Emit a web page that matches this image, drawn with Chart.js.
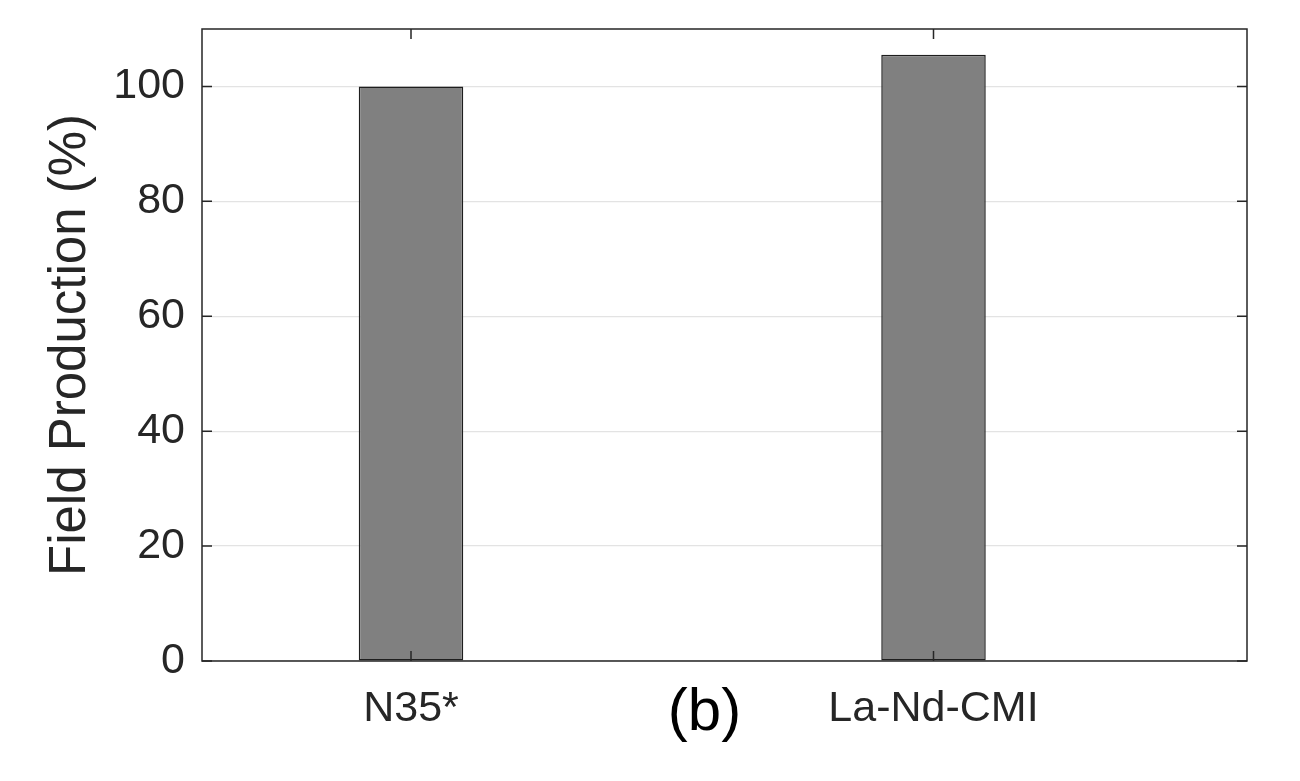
<!DOCTYPE html>
<html>
<head>
<meta charset="utf-8">
<title>Field Production</title>
<script src="https://cdn.jsdelivr.net/npm/chart.js@4.4.1/dist/chart.umd.min.js"></script>
<style>
  html, body { margin: 0; padding: 0; background: #ffffff; }
  #wrap { width: 1300px; height: 781px; position: relative; }
</style>
</head>
<body>
<div id="wrap"><canvas id="chart" width="1300" height="781"></canvas></div>
<script>
(function () {
  'use strict';

  // datos
  var CATEGORIAS = ['N35*', 'La-Nd-CMI'];
  var PRODUCCION = [100, 105.5];
  var Y_TICKS = [0, 20, 40, 60, 80, 100];
  var Y_TITULO = 'Field Production (%)';
  var PANEL = '(b)';

  var COLOR_EJE = 'rgb(38, 38, 38)';
  var COLOR_GRID = 'rgb(227, 227, 227)';
  var FUENTE = '"Liberation Sans", Arial, Helvetica, sans-serif';

  var puntos = PRODUCCION.map(function (v, i) { return { x: i + 1, y: v }; });

  // marcas hacia dentro + caja, estilo MATLAB
  var cajaPlugin = {
    id: 'caja',
    afterDatasetsDraw: function (chart) {
      var ctx = chart.ctx;
      var a = chart.chartArea;
      var xs = chart.scales.x, ys = chart.scales.y;
      var largo = 10;
      ctx.save();
      ctx.strokeStyle = COLOR_EJE;
      ctx.lineWidth = 1.5;
      ctx.beginPath();
      ys.ticks.forEach(function (t) {
        var y = ys.getPixelForValue(t.value);
        ctx.moveTo(a.left, y); ctx.lineTo(a.left + largo, y);
        ctx.moveTo(a.right, y); ctx.lineTo(a.right - largo, y);
      });
      xs.ticks.forEach(function (t) {
        var x = xs.getPixelForValue(t.value);
        ctx.moveTo(x, a.bottom); ctx.lineTo(x, a.bottom - largo);
        ctx.moveTo(x, a.top); ctx.lineTo(x, a.top + largo);
      });
      ctx.stroke();
      ctx.strokeRect(a.left, a.top, a.right - a.left, a.bottom - a.top);

      // etiqueta del panel
      ctx.fillStyle = 'rgb(0, 0, 0)';
      ctx.font = '60px ' + FUENTE;
      ctx.textAlign = 'center';
      ctx.textBaseline = 'middle';
      ctx.fillText(PANEL, (a.left + a.right) / 2 - 20, a.bottom + 52);
      ctx.restore();
    }
  };

  var ctx = document.getElementById('chart').getContext('2d');
  new Chart(ctx, {
    type: 'bar',
    data: {
      datasets: [{
        label: Y_TITULO,
        data: puntos,
        backgroundColor: 'rgb(128, 128, 128)',
        borderColor: 'rgb(30, 30, 30)',
        borderWidth: 1.5,
        borderSkipped: false,
        barPercentage: 0.2,
        categoryPercentage: 1.0
      }]
    },
    options: {
      responsive: false,
      animation: false,
      devicePixelRatio: 1,
      layout: { padding: { top: 29, right: 53, left: 0, bottom: 0 } },
      plugins: {
        legend: { display: false },
        tooltip: { enabled: false }
      },
      scales: {
        x: {
          type: 'linear',
          min: 0.6,
          max: 2.6,
          offset: false,
          grid: { display: false, drawTicks: false, offset: false },
          border: { display: false },
          afterBuildTicks: function (scale) {
            scale.ticks = CATEGORIAS.map(function (c, i) { return { value: i + 1 }; });
          },
          afterFit: function (scale) {
            scale.height = 120;
            scale.paddingLeft = 0;
            scale.paddingRight = 0;
          },
          ticks: {
            color: COLOR_EJE,
            font: { family: FUENTE, size: 43 },
            padding: 22,
            maxRotation: 0,
            callback: function (val) { return CATEGORIAS[val - 1] || ''; }
          }
        },
        y: {
          min: 0,
          max: 110,
          grid: { color: COLOR_GRID, lineWidth: 1.2, drawTicks: false },
          border: { display: false },
          afterBuildTicks: function (scale) {
            scale.ticks = Y_TICKS.map(function (v) { return { value: v }; });
          },
          afterFit: function (scale) {
            scale.width = 202;
            scale.paddingTop = 0;
            scale.paddingBottom = 0;
          },
          ticks: {
            color: COLOR_EJE,
            font: { family: FUENTE, size: 43 },
            padding: 17
          },
          title: {
            display: true,
            text: Y_TITULO,
            color: COLOR_EJE,
            font: { family: FUENTE, size: 51 },
            padding: { top: 40, bottom: 0 }
          }
        }
      }
    },
    plugins: [cajaPlugin]
  });
})();
</script>
</body>
</html>
